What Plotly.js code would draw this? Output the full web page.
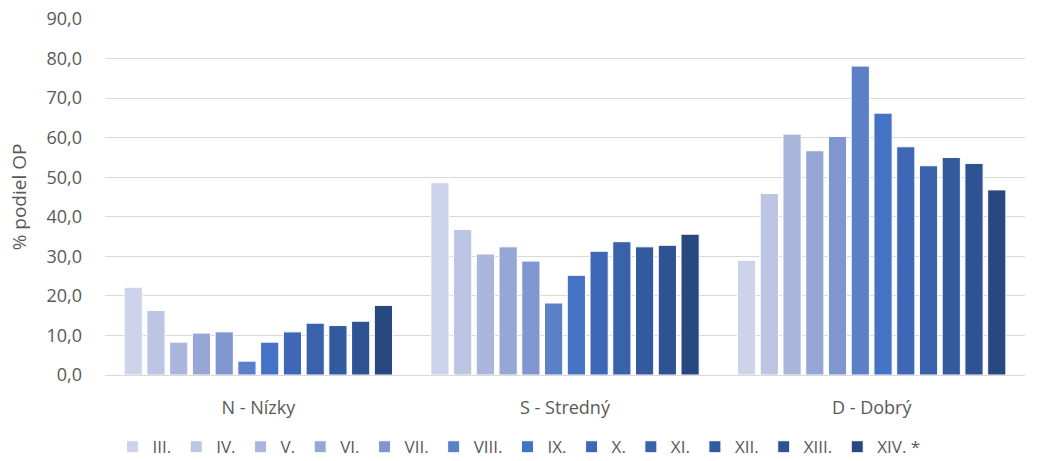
<!DOCTYPE html>
<html>
<head>
<meta charset="utf-8">
<script src="https://cdn.plot.ly/plotly-3.0.1.min.js"></script>
<style>html,body{margin:0;padding:0;background:#fff;}#chart{width:1038px;height:461px;}</style>
</head>
<body>
<div id="chart"></div>
<script>
const categories = ["N - Nízky", "S - Stredný", "D - Dobrý"];
const seriesNames = ["III.", "IV.", "V.", "VI.", "VII.", "VIII.", "IX.", "X.", "XI.", "XII.", "XIII.", "XIV. *"];
const valuesN = [22.2, 16.3, 8.3, 10.6, 10.9, 3.5, 8.3, 10.9, 13.1, 12.5, 13.6, 17.6];
const valuesS = [48.6, 36.8, 30.6, 32.4, 28.8, 18.2, 25.2, 31.3, 33.7, 32.4, 32.8, 35.6];
const valuesD = [29.0, 45.9, 60.9, 56.7, 60.3, 78.1, 66.2, 57.7, 52.9, 55.0, 53.5, 46.8];
const colors = ["#cdd3ea", "#bcc5e4", "#abb6dd", "#96a7d6", "#8096cf", "#5b80c8", "#4472c4", "#3e68b5", "#3a62ab", "#335a9f", "#2f5293", "#284880"];

const traces = seriesNames.map((name, i) => ({
  type: 'bar',
  name: name,
  x: categories,
  y: [valuesN[i], valuesS[i], valuesD[i]],
  marker: {color: colors[i], line: {color: '#ffffff', width: 1}},
  hoverinfo: 'skip'
}));

const font = "'Open Sans', 'DejaVu Sans', sans-serif";
const layout = {
  width: 1038, height: 461,
  margin: {l: 105, r: 13, t: 19, b: 86},
  paper_bgcolor: '#ffffff', plot_bgcolor: '#ffffff',
  separators: ', ',
  barmode: 'group',
  bargap: 0.11,
  bargroupgap: 0.2,
  font: {family: font, color: '#595959', size: 14},
  xaxis: {
    type: 'category',
    showgrid: false, zeroline: false,
    showline: true, linecolor: '#d9d9d9', linewidth: 1,
    ticks: '', tickfont: {size: 18, color: '#595959'},
    ticklabelstandoff: 16,
    automargin: false
  },
  yaxis: {
    range: [0, 90], dtick: 10, tickformat: '.1f',
    showgrid: true, gridcolor: '#d9d9d9', gridwidth: 1,
    zeroline: false, showline: false, ticks: '',
    tickfont: {size: 18, color: '#595959'},
    ticklabelstandoff: 22,
    title: {text: '% podiel OP', font: {size: 19, color: '#595959'}, standoff: 14},
    automargin: false
  },
  showlegend: true,
  legend: {
    orientation: 'h', x: 0.5, xanchor: 'center', xref: 'container',
    y: 0.03, yanchor: 'middle', yref: 'container',
    font: {size: 17, color: '#595959'}, traceorder: 'normal',
    itemwidth: 30, tracegroupgap: 0
  }
};

Plotly.newPlot('chart', traces, layout, {displayModeBar: false, staticPlot: true});
</script>
</body>
</html>
